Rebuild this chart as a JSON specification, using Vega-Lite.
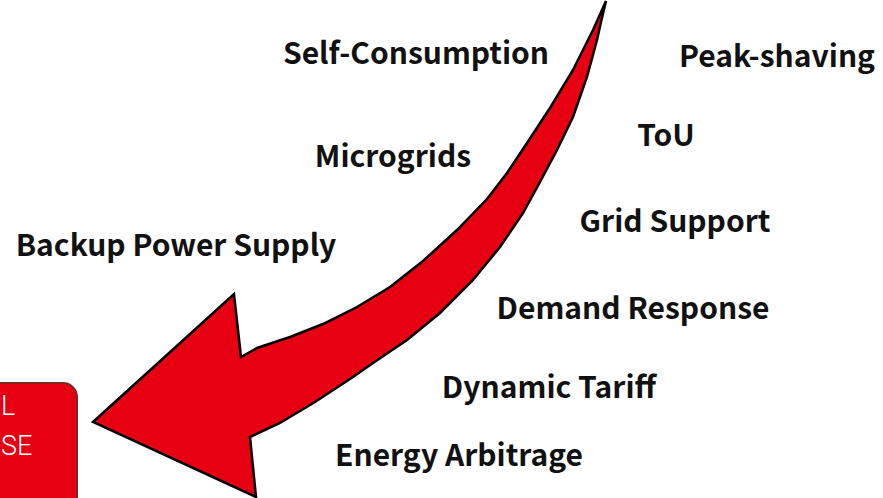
{
  "$schema": "https://vega.github.io/schema/vega-lite/v6.json",
  "width": 883,
  "height": 498,
  "padding": 0,
  "autosize": {"type": "none"},
  "background": "white",
  "config": {"view": {"stroke": null}},
  "datasets": {
    "arrow": [
      {"i": 0, "x": 606, "y": 1},
      {"i": 1, "x": 601, "y": 22},
      {"i": 2, "x": 597, "y": 40},
      {"i": 3, "x": 587, "y": 77},
      {"i": 4, "x": 573, "y": 117},
      {"i": 5, "x": 557, "y": 150},
      {"i": 6, "x": 540, "y": 182},
      {"i": 7, "x": 523, "y": 213},
      {"i": 8, "x": 500, "y": 247},
      {"i": 9, "x": 473, "y": 280},
      {"i": 10, "x": 440, "y": 313},
      {"i": 11, "x": 407, "y": 340},
      {"i": 12, "x": 373, "y": 363},
      {"i": 13, "x": 353, "y": 377},
      {"i": 14, "x": 315, "y": 402},
      {"i": 15, "x": 280, "y": 423},
      {"i": 16, "x": 250, "y": 437},
      {"i": 17, "x": 256, "y": 497},
      {"i": 18, "x": 93, "y": 422},
      {"i": 19, "x": 234, "y": 294},
      {"i": 20, "x": 241, "y": 357},
      {"i": 21, "x": 257, "y": 348},
      {"i": 22, "x": 290, "y": 337},
      {"i": 23, "x": 323, "y": 324},
      {"i": 24, "x": 357, "y": 307},
      {"i": 25, "x": 390, "y": 287},
      {"i": 26, "x": 423, "y": 261},
      {"i": 27, "x": 457, "y": 230},
      {"i": 28, "x": 487, "y": 199},
      {"i": 29, "x": 507, "y": 173},
      {"i": 30, "x": 527, "y": 143},
      {"i": 31, "x": 550, "y": 108},
      {"i": 32, "x": 573, "y": 70},
      {"i": 33, "x": 593, "y": 30}
    ],
    "labels": [
      {"label": "Self-Consumption", "x": 416, "y": 55},
      {"label": "Peak-shaving", "x": 777, "y": 58},
      {"label": "ToU", "x": 666, "y": 137},
      {"label": "Microgrids", "x": 393, "y": 158},
      {"label": "Grid Support", "x": 675, "y": 223},
      {"label": "Backup Power Supply", "x": 176, "y": 247},
      {"label": "Demand Response", "x": 633, "y": 310},
      {"label": "Dynamic Tariff", "x": 549, "y": 389},
      {"label": "Energy Arbitrage", "x": 459, "y": 457}
    ],
    "box": [
      {"x": -40, "x2": 77, "y": 383, "y2": 540}
    ],
    "boxText": [
      {"t": "L", "x": 1, "y": 407},
      {"t": "SE", "x": 1, "y": 447}
    ]
  },
  "layer": [
    {
      "data": {"name": "box"},
      "mark": {"type": "rect", "fill": "#e60012", "stroke": "#7b2a22", "strokeWidth": 2, "cornerRadius": 14},
      "encoding": {
        "x": {"field": "x", "type": "quantitative", "scale": {"domain": [0, 883], "nice": false, "zero": false}, "axis": null},
        "x2": {"field": "x2"},
        "y": {"field": "y", "type": "quantitative", "scale": {"domain": [0, 498], "nice": false, "zero": false, "reverse": true}, "axis": null},
        "y2": {"field": "y2"}
      }
    },
    {
      "data": {"name": "boxText"},
      "mark": {"type": "text", "align": "left", "baseline": "middle", "font": "Roboto", "fontWeight": 300, "fontSize": 27, "color": "white"},
      "encoding": {
        "x": {"field": "x", "type": "quantitative"},
        "y": {"field": "y", "type": "quantitative"},
        "text": {"field": "t"}
      }
    },
    {
      "data": {"name": "arrow"},
      "mark": {"type": "line", "interpolate": "linear-closed", "fill": "#e60012", "stroke": "#000000", "strokeWidth": 2.5, "strokeJoin": "miter"},
      "encoding": {
        "x": {"field": "x", "type": "quantitative"},
        "y": {"field": "y", "type": "quantitative"},
        "order": {"field": "i", "type": "quantitative"}
      }
    },
    {
      "data": {"name": "labels"},
      "mark": {"type": "text", "align": "center", "baseline": "middle", "font": "Noto Sans CJK SC", "fontWeight": "bold", "fontSize": 30, "color": "#111111"},
      "encoding": {
        "x": {"field": "x", "type": "quantitative"},
        "y": {"field": "y", "type": "quantitative"},
        "text": {"field": "label"}
      }
    }
  ]
}
